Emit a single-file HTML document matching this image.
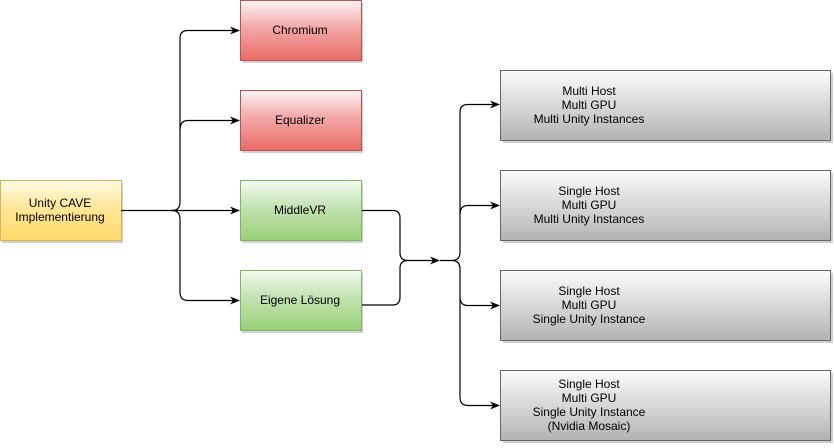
<!DOCTYPE html>
<html><head><meta charset="utf-8"><style>body{margin:0;background:#fff}svg{display:block}text{font-family:"Liberation Sans",sans-serif;font-size:12px;fill:#000}</style></head><body>
<svg width="834" height="448" xmlns="http://www.w3.org/2000/svg">
<defs>
<linearGradient id="r" x1="0" y1="0" x2="0" y2="1"><stop offset="0" stop-color="#fff4f4"/><stop offset="0.45" stop-color="#f3a8a8"/><stop offset="1" stop-color="#ea6b66"/></linearGradient>
<linearGradient id="g" x1="0" y1="0" x2="0" y2="1"><stop offset="0" stop-color="#f4fbf0"/><stop offset="0.45" stop-color="#c3e3b2"/><stop offset="1" stop-color="#97d077"/></linearGradient>
<linearGradient id="y" x1="0" y1="0" x2="0" y2="1"><stop offset="0" stop-color="#fffbe6"/><stop offset="0.45" stop-color="#ffe79a"/><stop offset="1" stop-color="#ffd966"/></linearGradient>
<linearGradient id="s" x1="0" y1="0" x2="0" y2="1"><stop offset="0" stop-color="#fbfbfb"/><stop offset="0.45" stop-color="#dcdcdc"/><stop offset="1" stop-color="#b3b3b3"/></linearGradient>
<marker id="a" markerWidth="10" markerHeight="8" refX="9" refY="4" orient="auto" markerUnits="userSpaceOnUse"><path d="M0,0 L10,4 L0,8 L3,4z" fill="#000"/></marker>
</defs>
<g fill="#d0d0d0">
<rect x="242" y="3" width="121" height="60"/><rect x="242" y="93" width="121" height="60"/><rect x="242" y="183" width="121" height="60"/><rect x="242" y="273" width="121" height="60"/><rect x="2" y="183" width="121" height="60"/>
<rect x="503" y="73" width="330" height="70"/><rect x="503" y="173" width="330" height="70"/><rect x="503" y="273" width="330" height="70"/><rect x="503" y="373" width="330" height="70"/>
</g>
<rect x="240.5" y="0.5" width="121" height="60" fill="url(#r)" stroke="#b85450"/>
<rect x="240.5" y="90.5" width="121" height="60" fill="url(#r)" stroke="#b85450"/>
<rect x="240.5" y="180.5" width="121" height="60" fill="url(#g)" stroke="#82b366"/>
<rect x="240.5" y="270.5" width="121" height="60" fill="url(#g)" stroke="#82b366"/>
<rect x="0.5" y="180.5" width="121" height="60" fill="url(#y)" stroke="#d6b656"/>
<g fill="url(#s)" stroke="#666">
<rect x="500.5" y="70.5" width="330" height="70"/><rect x="500.5" y="170.5" width="330" height="70"/><rect x="500.5" y="270.5" width="330" height="70"/><rect x="500.5" y="370.5" width="330" height="70"/>
</g>
<g fill="none" stroke="#000" stroke-width="1.2">
<path d="M121,210.5 H172 Q180,210.5 180,202 V38 Q180,30.5 188,30.5 H239" marker-end="url(#a)"/>
<path d="M180,130 Q180,120.5 188,120.5 H239" marker-end="url(#a)"/>
<path d="M172,210.5 H239" marker-end="url(#a)"/>
<path d="M172,210.5 Q180,210.5 180,219 V292 Q180,300.5 188,300.5 H239" marker-end="url(#a)"/>
<path d="M362,210.5 H393 Q400,210.5 400,218 V253 Q400,260.5 408,260.5 H439" marker-end="url(#a)"/>
<path d="M362,305 H393 Q400,305 400,297 V268 Q400,260.5 408,260.5"/>
<path d="M440,260.5 H452 Q460,260.5 460,252 V112 Q460,104.5 468,104.5 H499" marker-end="url(#a)"/>
<path d="M460,214 Q460,205.5 468,205.5 H499" marker-end="url(#a)"/>
<path d="M452,260.5 Q460,260.5 460,269 V297 Q460,305.5 468,305.5 H499" marker-end="url(#a)"/>
<path d="M460,297 V397 Q460,405.5 468,405.5 H499" marker-end="url(#a)"/>
</g>
<g text-anchor="middle">
<text x="300" y="34">Chromium</text>
<text x="300" y="124">Equalizer</text>
<text x="300" y="214">MiddleVR</text>
<text x="300" y="304">Eigene Lösung</text>
<text x="60" y="207">Unity CAVE</text><text x="60" y="221">Implementierung</text>
<text x="589" y="95">Multi Host</text><text x="589" y="109">Multi GPU</text><text x="589" y="123">Multi Unity Instances</text>
<text x="589" y="195">Single Host</text><text x="589" y="209">Multi GPU</text><text x="589" y="223">Multi Unity Instances</text>
<text x="589" y="295">Single Host</text><text x="589" y="309">Multi GPU</text><text x="589" y="323">Single Unity Instance</text>
<text x="589" y="388">Single Host</text><text x="589" y="402">Multi GPU</text><text x="589" y="416">Single Unity Instance</text><text x="589" y="430">(Nvidia Mosaic)</text>
</g>
</svg>
</body></html>
